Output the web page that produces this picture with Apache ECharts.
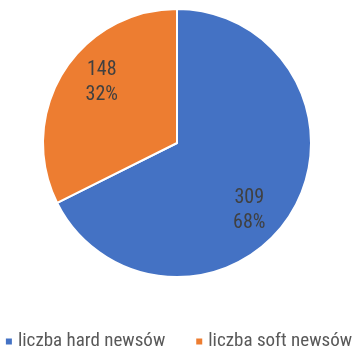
<!DOCTYPE html>
<html>
<head>
<meta charset="utf-8">
<script src="https://cdn.jsdelivr.net/npm/echarts@6/dist/echarts.min.js"></script>
<style>
  html, body { margin: 0; padding: 0; background: #fff; }
  #chart { width: 356px; height: 348px; }
</style>
</head>
<body>
<div id="chart"></div>
<script>
// News counts by type
const categories = ['liczba hard newsów', 'liczba soft newsów'];
const counts = [309, 148];
const percents = [68, 32];
const colors = ['#4472C4', '#ED7D31'];
// small nudges so each label sits where the slice has room
const labelOffsets = [[-12, 15], [9, -8]];

const FONT = '"Roboto Condensed", "DejaVu Sans Condensed", sans-serif';

const slices = categories.map((name, i) => ({
  name,
  value: counts[i],
  itemStyle: { color: colors[i] }
}));

const labelSlices = categories.map((name, i) => ({
  name,
  value: counts[i],
  label: { offset: labelOffsets[i] }
}));

const chart = echarts.init(document.getElementById('chart'), null, { renderer: 'canvas' });
chart.setOption({
  animation: false,
  legend: {
    bottom: -3,
    left: 'center',
    icon: 'rect',
    itemWidth: 8,
    itemHeight: 8,
    itemGap: 29,
    padding: 0,
    data: categories,
    textStyle: { fontFamily: FONT, fontSize: 19, color: '#595959' }
  },
  series: [
    {
      type: 'pie',
      center: [177, 143],
      radius: [0, 134],
      startAngle: 90,
      clockwise: true,
      data: slices,
      label: { show: false },
      labelLine: { show: false },
      itemStyle: { borderColor: '#fff', borderWidth: 2 },
      emphasis: { disabled: true }
    },
    {
      // label layer: inside labels sit midway across this ring
      type: 'pie',
      center: [177, 143],
      radius: [58, 134],
      startAngle: 90,
      clockwise: true,
      silent: true,
      data: labelSlices,
      itemStyle: { color: 'rgba(0,0,0,0)' },
      label: {
        show: true,
        position: 'inside',
        fontFamily: FONT,
        fontSize: 20,
        lineHeight: 25,
        color: '#404040',
        formatter: p => counts[p.dataIndex] + '\n' + percents[p.dataIndex] + '%'
      },
      labelLine: { show: false },
      emphasis: { disabled: true }
    }
  ]
});
</script>
</body>
</html>
